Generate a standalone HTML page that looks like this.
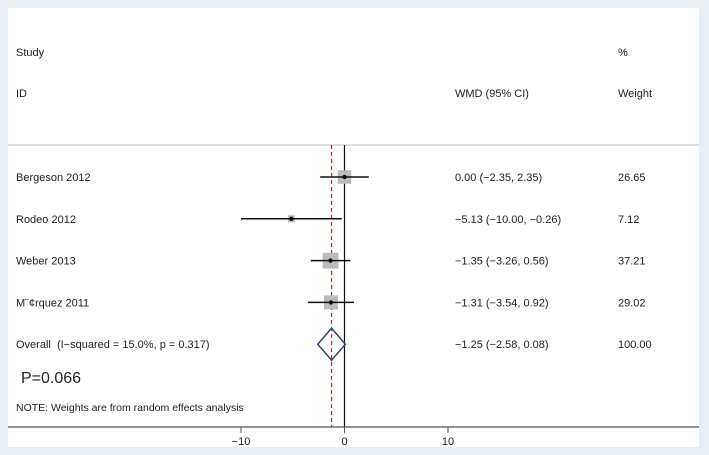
<!DOCTYPE html>
<html><head><meta charset="utf-8"><style>
body{margin:0;background:#e6eef1;}
svg{display:block;font-family:"Liberation Sans",sans-serif;}
</style></head><body>
<svg width="709" height="455">
<rect x="8" y="8" width="691" height="439" fill="#fff"/>
<g font-size="11" fill="#222">
<text x="16" y="56">Study</text>
<text x="16" y="97">ID</text>
<text x="455" y="97">WMD (95% CI)</text>
<text x="618" y="56">%</text>
<text x="618" y="97">Weight</text>
<text x="21" y="383" font-size="16">P=0.066</text>
<text x="16" y="411" font-size="10.5">NOTE: Weights are from random effects analysis</text>
</g>
<line x1="8" y1="145" x2="699" y2="145" stroke="#bbb"/>
<g id="plot"></g>
</svg>
<script>
const studies=["Bergeson 2012","Rodeo 2012","Weber 2013","M\u00a8\u00a2rquez 2011"];
const est=[0.00,-5.13,-1.35,-1.31];
const lo=[-2.35,-10.00,-3.26,-3.54];
const hi=[2.35,-0.26,0.56,0.92];
const weights=["26.65","7.12","37.21","29.02"];
const overall=[-1.25,-2.58,0.08];
const overallLabel="Overall \u00a0(I\u2212squared = 15.0%, p = 0.317)";
const ticks=[-10,0,10];
const X=v=>344.5+v*10.35;
const rowY=i=>177+i*41.8;
const g=document.getElementById('plot');const NS='http://www.w3.org/2000/svg';
function mk(t,a,txt){const e=document.createElementNS(NS,t);for(const k in a)e.setAttribute(k,a[k]);if(txt!=null)e.textContent=txt;g.appendChild(e);return e;}
const fmt=v=>(v<0?'\u2212':'')+Math.abs(v).toFixed(2);
let e;
e=mk('line',{x1:X(0),y1:145,x2:X(0),y2:427,stroke:'#111','stroke-width':1.2});


e=mk('line',{x1:X(overall[0]),y1:145,x2:X(overall[0]),y2:427,stroke:'#b03030','stroke-width':1.2,'stroke-dasharray':'4,3'});


studies.forEach((s,i)=>{const y=rowY(i);
 e=mk('text',{x:16,y:y+4,'font-size':11,fill:'#222'},s);
 
 
 const sz=Math.sqrt(parseFloat(weights[i]))*2.6;
 e=mk('rect',{x:X(est[i])-sz/2,y:y-sz/2,width:sz,height:sz,fill:'#bbb'});
 
 
 e=mk('line',{x1:X(lo[i]),y1:y,x2:X(hi[i]),y2:y,stroke:'#111','stroke-width':1.5});
 
 
 e=mk('circle',{cx:X(est[i]),cy:y,r:2.2,fill:'#111'});
 
 
 e=mk('text',{x:455,y:y+4,'font-size':11,fill:'#222'},fmt(est[i])+' ('+fmt(lo[i])+', '+fmt(hi[i])+')');
 
 
 e=mk('text',{x:618,y:y+4,'font-size':11,fill:'#222'},weights[i]);
 
 
});
const oy=rowY(4);
e=mk('text',{x:16,y:oy+4,'font-size':11,fill:'#222'},overallLabel);


e=mk('polygon',{points:`${X(overall[1])},${oy} ${X(overall[0])},${oy-16} ${X(overall[2])},${oy} ${X(overall[0])},${oy+16}`,fill:'none',stroke:'#334477','stroke-width':1.5});


e=mk('text',{x:455,y:oy+4,'font-size':11,fill:'#222'},fmt(overall[0])+' ('+fmt(overall[1])+', '+fmt(overall[2])+')');


e=mk('text',{x:618,y:oy+4,'font-size':11,fill:'#222'},'100.00');


e=mk('line',{x1:8,y1:427,x2:699,y2:427,stroke:'#555','stroke-width':1.2});


ticks.forEach(t=>{
 e=mk('line',{x1:X(t),y1:427,x2:X(t),y2:433,stroke:'#555'});
 
 
 e=mk('text',{x:X(t),y:445,'font-size':11,fill:'#222','text-anchor':'middle'},(t<0?'\u2212':'')+Math.abs(t));
 
 
});
</script>
</body></html>
